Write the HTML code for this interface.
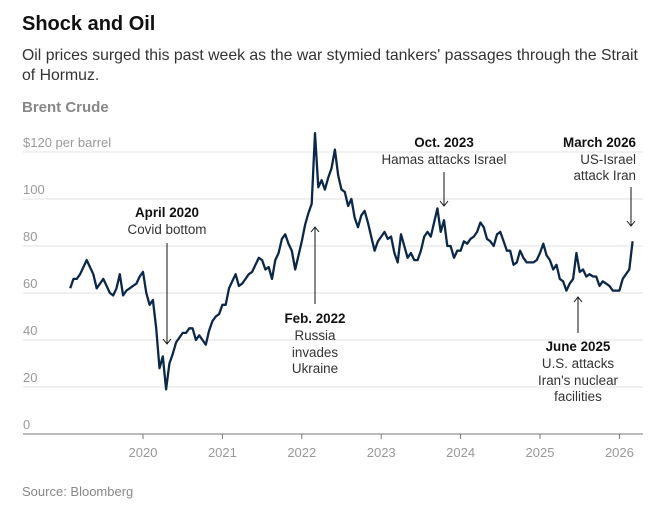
<!DOCTYPE html>
<html><head><meta charset="utf-8"><style>
body{margin:0;background:#fff;font-family:"Liberation Sans",sans-serif;}
svg{display:block}
</style></head><body>
<svg id="chart" width="660" height="513">
<text x="22" y="30" font-size="20" font-weight="bold" fill="#111">Shock and Oil</text>
<text x="22" y="60" font-size="15.8" fill="#333">Oil prices surged this past week as the war stymied tankers' passages through the Strait</text>
<text x="22" y="80" font-size="15.8" fill="#333">of Hormuz.</text>
<text x="22" y="112" font-size="15" font-weight="bold" fill="#888">Brent Crude</text>
<g id="grid"></g><g id="xaxis"></g>
<path id="line" fill="none" stroke="#0c2849" stroke-width="2.3" stroke-linejoin="round"/>
<g id="ann" font-size="13.4" fill="#333" text-anchor="middle"></g>
<text x="22" y="496" font-size="13" fill="#888">Source: Bloomberg</text>
</svg>
<script>
const yTicks=[0,20,40,60,80,100,120];
const yTickLabels=["0","20","40","60","80","100","$120 per barrel"];
const years=[2020,2021,2022,2023,2024,2025,2026];
const startYear=2019.083, step=1/24;
const prices=[62,66,66,68,71,74,71,68,62,64,66,63,60,59,62,68,59,61,62,63,64,67,
69,60,55,57,45,28,33,19,30,34,39,41,43,43,45,45,40,42,40,38,44,48,50,51,
55,55,62,65,68,63,64,66,68,69,72,75,74,70,71,66,74,77,83,85,81,78,70,76,
82,89,94,98,128,105,108,104,109,113,121,110,104,103,97,100,92,88,93,95,90,84,78,82,
84,86,83,84,77,73,85,80,75,77,74,74,78,84,86,84,90,96,86,91,80,80,75,78,
78,82,81,83,84,86,90,88,83,82,80,85,86,82,78,78,72,73,78,75,73,73,73,74,
77,81,76,74,70,72,66,65,61,64,66,77,69,70,67,68,67,67,63,65,64,63,61,61,
61,66,68,70,82];
const NS="http://www.w3.org/2000/svg";
const x=t=>143+(t-2020)*79.4;
const y=v=>434-v*2.35;
const g=document.getElementById('grid');
yTicks.forEach((v,i)=>{
 if(v>0){const l=document.createElementNS(NS,'line');
 l.setAttribute('x1',23);l.setAttribute('x2',643);l.setAttribute('y1',y(v));l.setAttribute('y2',y(v));
 l.setAttribute('stroke','#e2e2e2');
 
 
 g.appendChild(l);}
 const t=document.createElementNS(NS,'text');
 t.setAttribute('x',23);t.setAttribute('y',y(v)-5);t.setAttribute('font-size','13');t.setAttribute('fill','#999');
 t.textContent=yTickLabels[i];
 
 
 g.appendChild(t);
});
const xa=document.getElementById('xaxis');
const ax=document.createElementNS(NS,'line');
ax.setAttribute('x1',23);ax.setAttribute('x2',643);ax.setAttribute('y1',434);ax.setAttribute('y2',434);ax.setAttribute('stroke','#777');


xa.appendChild(ax);
years.forEach(yr=>{
 const tk=document.createElementNS(NS,'line');
 tk.setAttribute('x1',x(yr));tk.setAttribute('x2',x(yr));tk.setAttribute('y1',434);tk.setAttribute('y2',439);tk.setAttribute('stroke','#777');
 
 
 xa.appendChild(tk);
 const t=document.createElementNS(NS,'text');
 t.setAttribute('x',x(yr));t.setAttribute('y',457);t.setAttribute('font-size','13');t.setAttribute('fill','#999');t.setAttribute('text-anchor','middle');
 t.textContent=yr;
 
 
 xa.appendChild(t);
});
document.getElementById('line').setAttribute('d',prices.map((v,i)=>(i?'L':'M')+x(startYear+i*step).toFixed(1)+','+y(v).toFixed(1)).join(''));
const ann=document.getElementById('ann');
function txt(s,xx,yy,bold,anchor,name){const t=document.createElementNS(NS,'text');t.setAttribute('x',xx);t.setAttribute('y',yy);
 if(bold){t.setAttribute('font-weight','bold');t.setAttribute('fill','#111');}
 if(anchor)t.setAttribute('text-anchor',anchor);t.textContent=s;
 
 
 ann.appendChild(t);}
function arrow(xx,y1,y2,name){const p=document.createElementNS(NS,'path');const d=y2>y1?-1:1;
 p.setAttribute('d',`M${xx},${y1}L${xx},${y2}M${xx-4},${y2+5*d}L${xx},${y2}L${xx+4},${y2+5*d}`);
 p.setAttribute('stroke','#111');p.setAttribute('fill','none');
 
 
 ann.appendChild(p);}
txt('April 2020',167,217,1,null,'annotation-april-2020-title');
txt('Covid bottom',167,234,0,null,'annotation-april-2020-text');
arrow(167,243,344,'arrow-april-2020');
txt('Feb. 2022',315,323,1,null,'annotation-feb-2022-title');
txt('Russia',315,340,0,null,'annotation-feb-2022-text');
txt('invades',315,357,0,null,'annotation-feb-2022-text');
txt('Ukraine',315,373,0,null,'annotation-feb-2022-text');
arrow(315,304,227,'arrow-feb-2022');
txt('Oct. 2023',444,147,1,null,'annotation-oct-2023-title');
txt('Hamas attacks Israel',444,164,0,null,'annotation-oct-2023-text');
arrow(444,172,206,'arrow-oct-2023');
txt('March 2026',636,147,1,'end','annotation-march-2026-title');
txt('US-Israel',636,164,0,'end','annotation-march-2026-text');
txt('attack Iran',636,180,0,'end','annotation-march-2026-text');
arrow(631,187,226,'arrow-march-2026');
txt('June 2025',578,351,1,null,'annotation-june-2025-title');
txt('U.S. attacks',578,368,0,null,'annotation-june-2025-text');
txt("Iran's nuclear",578,385,0,null,'annotation-june-2025-text');
txt('facilities',578,401,0,null,'annotation-june-2025-text');
arrow(578,333,297,'arrow-june-2025');
</script>
</body></html>
